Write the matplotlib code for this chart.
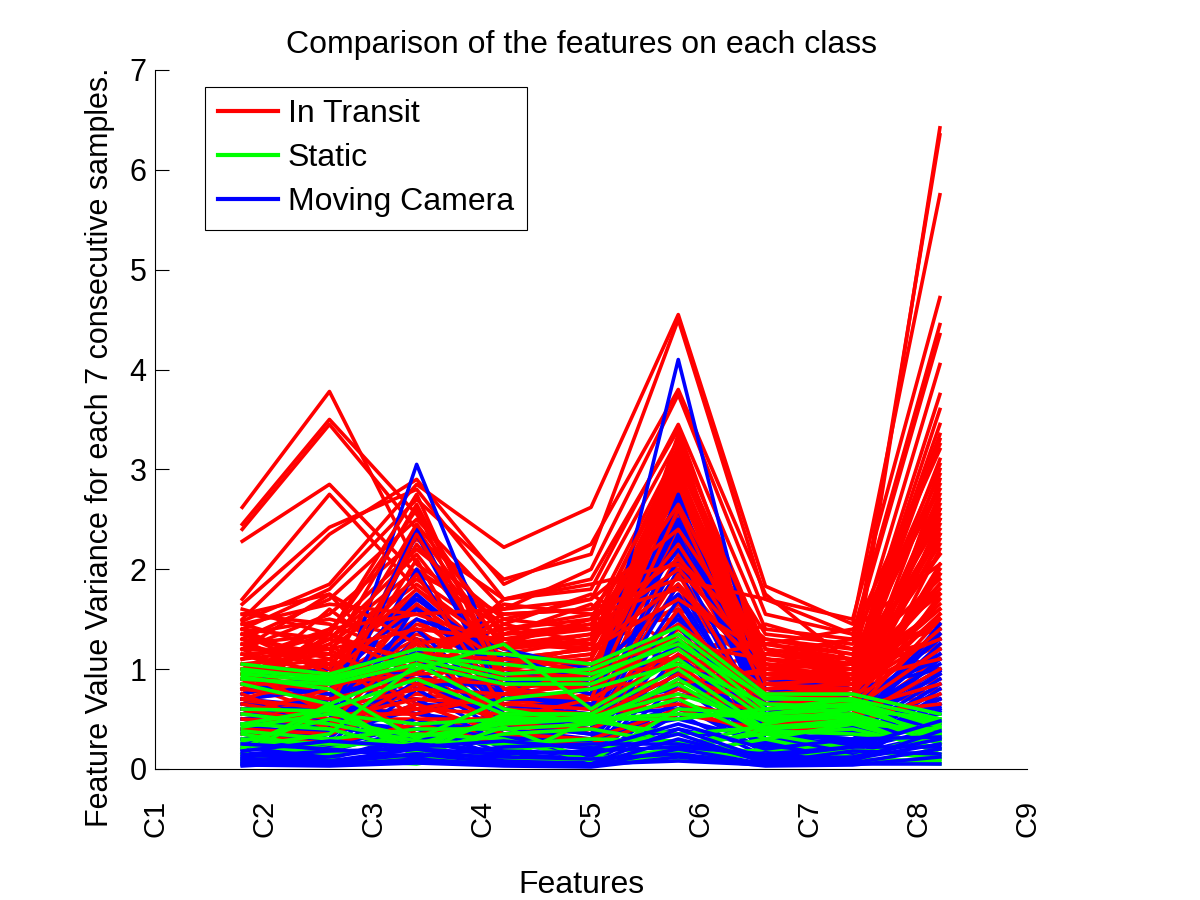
import matplotlib
matplotlib.use("Agg")
import matplotlib.pyplot as plt
from matplotlib.lines import Line2D

plt.rcParams['font.family'] = ['Liberation Sans', 'DejaVu Sans']

# feature names shown on the x axis, and where the 9 feature columns sit
tick_labels = ['C1', 'C2', 'C3', 'C4', 'C5', 'C6', 'C7', 'C8', 'C9']
feature_x = [1.8, 2.6, 3.4, 4.2, 5.0, 5.8, 6.6, 7.4, 8.2]

# variance values per sample (one row = one line)
in_transit = [
    [2.62, 3.78, 2.05, 1.45, 1.25, 2.30, 1.05, 0.80, 1.85],
    [2.45, 3.50, 2.55, 1.30, 1.45, 2.65, 1.10, 0.95, 2.35],
    [2.40, 3.45, 2.40, 1.20, 1.30, 3.05, 1.20, 0.85, 1.60],
    [2.28, 2.85, 1.95, 1.55, 1.60, 2.55, 0.90, 0.70, 1.30],
    [1.70, 2.75, 1.80, 1.05, 1.15, 2.20, 0.80, 0.60, 2.05],
    [1.65, 2.42, 2.80, 1.70, 1.90, 3.40, 1.00, 0.90, 6.42],
    [1.50, 2.35, 2.90, 1.85, 2.25, 3.80, 1.75, 1.05, 6.35],
    [1.48, 1.85, 2.85, 2.22, 2.62, 4.55, 1.83, 1.45, 5.75],
    [1.40, 1.80, 2.70, 1.90, 2.15, 4.50, 1.70, 1.50, 4.72],
    [1.30, 1.70, 2.50, 1.60, 2.00, 3.75, 1.55, 1.35, 4.45],
    [1.20, 1.55, 2.30, 1.70, 1.80, 3.45, 1.40, 1.30, 4.35],
    [1.10, 1.40, 2.20, 1.50, 1.70, 3.30, 1.20, 1.10, 4.05],
    [1.00, 1.30, 2.00, 1.40, 1.50, 3.20, 1.10, 1.00, 3.75],
    [0.95, 1.25, 1.90, 1.30, 1.40, 3.10, 1.00, 0.95, 3.60],
    [1.45, 1.20, 1.85, 1.20, 1.30, 3.00, 0.95, 0.90, 3.30],
    [1.35, 1.10, 1.70, 1.10, 1.20, 2.90, 0.90, 0.85, 3.10],
    [1.25, 1.00, 1.60, 1.00, 1.10, 2.80, 0.85, 0.80, 2.75],
    [1.15, 0.95, 1.50, 0.90, 1.00, 2.70, 0.80, 0.75, 2.60],
    [1.05, 0.90, 1.40, 0.85, 0.95, 2.60, 0.75, 0.70, 2.45],
    [0.90, 0.85, 1.30, 0.80, 0.90, 2.50, 0.70, 0.65, 2.30],
    [0.85, 1.60, 0.95, 1.45, 1.75, 1.20, 1.30, 1.15, 1.40],
    [1.55, 1.45, 1.10, 1.65, 1.55, 1.05, 1.45, 1.20, 1.20],
    [1.20, 1.75, 0.80, 1.35, 1.65, 0.95, 1.15, 1.30, 1.00],
    [0.75, 1.35, 2.60, 0.70, 0.60, 2.40, 0.55, 0.50, 2.20],
    [0.65, 0.55, 2.45, 0.60, 0.75, 3.35, 0.50, 0.45, 2.90],
    [0.60, 0.70, 2.10, 0.55, 0.70, 2.95, 0.65, 0.55, 2.50],
    [0.55, 0.60, 1.65, 0.50, 0.55, 2.15, 0.70, 0.60, 1.95],
    [0.50, 0.38, 1.00, 0.45, 0.50, 1.85, 0.60, 0.55, 1.75],
    [1.00, 1.10, 0.75, 1.25, 1.35, 1.60, 1.25, 1.10, 1.45],
    [1.10, 1.20, 0.65, 1.35, 1.45, 1.50, 1.15, 1.05, 1.30],
    [0.80, 0.95, 1.20, 0.95, 1.05, 2.05, 0.95, 0.85, 1.65],
    [0.70, 0.80, 1.15, 0.75, 0.85, 1.95, 0.85, 0.75, 1.55],
    [0.95, 0.75, 1.45, 1.15, 0.95, 1.75, 1.05, 0.90, 2.15],
    [1.25, 1.05, 1.75, 0.65, 0.80, 2.35, 0.75, 0.65, 2.70],
    [1.40, 1.30, 2.15, 1.05, 1.10, 2.85, 1.00, 0.95, 3.45],
    [0.60, 0.65, 0.55, 0.35, 0.45, 1.25, 0.45, 0.50, 1.10],
    [0.45, 0.50, 0.50, 0.30, 0.40, 1.05, 0.40, 0.45, 0.95],
    [0.70, 0.45, 0.40, 0.55, 0.35, 0.90, 0.55, 0.60, 0.80],
    [0.85, 0.55, 0.60, 0.70, 0.65, 0.75, 0.60, 0.70, 0.70],
    [1.15, 0.85, 0.70, 0.60, 0.75, 1.40, 0.80, 0.80, 1.25],
    [1.30, 1.15, 0.90, 0.80, 1.00, 1.65, 0.95, 0.85, 1.50],
    [0.90, 1.00, 1.60, 1.00, 1.25, 2.45, 1.10, 1.00, 2.55],
    [0.75, 0.90, 1.35, 1.10, 1.20, 1.30, 0.70, 0.95, 1.85],
    [0.55, 0.75, 1.05, 0.85, 0.95, 1.10, 0.65, 0.80, 1.35],
    [0.65, 1.05, 0.85, 0.90, 1.10, 2.55, 0.90, 0.75, 2.00],
    [1.05, 0.65, 1.25, 0.40, 0.65, 1.55, 0.50, 0.40, 1.15],
    [0.40, 0.55, 0.75, 0.65, 0.60, 1.00, 0.35, 0.65, 0.90],
    [1.35, 1.50, 1.30, 1.15, 1.30, 2.75, 1.35, 1.25, 3.20],
    [0.80, 1.40, 1.55, 1.25, 1.50, 2.10, 1.25, 1.15, 2.80],
    [1.25, 1.35, 1.05, 1.50, 1.40, 2.00, 1.05, 1.00, 2.95],
    [1.15, 1.20, 1.40, 1.30, 1.20, 1.85, 0.95, 0.90, 2.65],
    [1.00, 0.95, 1.65, 1.05, 1.15, 2.25, 0.90, 0.95, 2.40],
    [0.95, 1.05, 1.80, 1.20, 1.35, 2.65, 1.00, 1.05, 3.05],
    [0.85, 0.85, 0.95, 1.00, 0.90, 1.45, 0.80, 0.85, 2.25],
    [0.80, 0.70, 0.90, 0.85, 0.80, 1.35, 0.75, 0.80, 1.95],
    [0.70, 0.60, 0.80, 0.75, 0.70, 1.20, 0.70, 0.75, 1.70],
    [0.65, 0.50, 0.70, 0.65, 0.60, 1.15, 0.65, 0.70, 1.55],
    [0.60, 0.45, 0.60, 0.55, 0.50, 0.95, 0.60, 0.65, 1.40],
    [0.75, 0.40, 0.85, 0.45, 0.40, 0.80, 0.55, 0.60, 1.20],
    [1.45, 1.65, 1.55, 1.60, 1.70, 2.40, 1.10, 1.00, 3.35],
    [1.55, 1.75, 1.25, 1.40, 1.55, 1.80, 1.00, 0.95, 2.60],
    [1.60, 1.35, 0.95, 1.70, 1.85, 2.05, 1.30, 1.20, 2.15],
    [1.35, 0.95, 1.00, 1.25, 1.20, 1.70, 1.15, 1.10, 1.90],
    [1.20, 0.80, 1.15, 1.10, 1.05, 1.25, 1.10, 1.05, 1.75],
    [1.05, 1.15, 0.85, 0.95, 1.00, 1.00, 0.95, 1.00, 1.60],
    [0.90, 1.25, 0.60, 0.75, 0.85, 0.85, 1.00, 0.95, 1.30],
    [0.80, 1.10, 0.50, 0.50, 0.70, 0.70, 0.85, 0.90, 1.10],
    [1.40, 1.00, 2.45, 1.35, 1.40, 3.15, 1.20, 1.05, 2.85],
    [1.30, 0.85, 2.25, 1.25, 1.25, 2.95, 1.05, 1.00, 2.50],
    [1.20, 1.15, 2.65, 0.95, 0.85, 3.25, 0.85, 0.80, 2.35],
    [1.10, 1.35, 2.75, 0.80, 0.70, 2.60, 0.75, 0.70, 3.00],
    [0.95, 0.60, 2.35, 0.90, 0.95, 2.85, 0.95, 0.85, 1.80],
    [0.70, 0.95, 1.95, 0.60, 0.55, 1.95, 0.50, 0.55, 1.50],
    [0.50, 0.45, 1.30, 0.40, 0.45, 1.60, 0.45, 0.50, 1.00],
    [0.40, 0.35, 0.65, 0.35, 0.30, 0.60, 0.35, 0.45, 0.75],
    [0.35, 0.25, 0.45, 0.25, 0.25, 0.55, 0.40, 0.55, 0.65],
    [0.55, 0.80, 0.35, 0.45, 0.55, 0.65, 0.50, 0.60, 0.85],
    [1.00, 0.55, 0.55, 0.75, 1.00, 1.10, 1.25, 1.40, 2.05],
    [0.85, 1.30, 1.10, 1.55, 1.60, 1.90, 1.70, 1.35, 3.25],
]

moving_camera = [
    [0.30, 0.45, 3.05, 0.90, 0.50, 4.10, 0.60, 0.40, 1.45],
    [0.50, 0.60, 2.40, 0.80, 0.60, 2.75, 0.50, 0.50, 1.40],
    [0.40, 0.50, 2.35, 0.70, 0.70, 2.60, 0.40, 0.60, 1.30],
    [0.70, 0.80, 1.75, 1.00, 0.80, 2.50, 0.70, 0.50, 1.20],
    [0.80, 0.90, 1.70, 1.10, 0.90, 2.30, 0.80, 0.70, 1.10],
    [0.60, 0.70, 1.50, 1.20, 1.00, 2.20, 0.90, 0.80, 1.00],
    [0.75, 0.95, 1.60, 0.95, 0.75, 2.45, 0.55, 0.45, 0.95],
    [0.55, 0.65, 1.40, 0.60, 0.55, 2.10, 0.45, 0.35, 0.90],
    [0.45, 0.55, 1.30, 0.55, 0.45, 2.00, 0.35, 0.30, 0.85],
    [0.35, 0.40, 1.20, 0.50, 0.40, 1.85, 0.30, 0.25, 0.80],
    [0.25, 0.30, 1.10, 0.45, 0.35, 1.70, 0.25, 0.20, 0.75],
    [0.20, 0.25, 1.00, 0.40, 0.30, 1.60, 0.20, 0.15, 0.70],
    [0.15, 0.20, 0.90, 0.35, 0.25, 1.45, 0.15, 0.10, 0.65],
    [0.10, 0.15, 0.80, 0.30, 0.20, 1.30, 0.10, 0.08, 0.60],
    [0.65, 0.55, 0.70, 0.25, 0.15, 1.15, 0.30, 0.35, 0.55],
    [0.50, 0.35, 0.60, 0.20, 0.12, 1.00, 0.25, 0.30, 0.50],
    [0.40, 0.25, 0.50, 0.15, 0.10, 0.85, 0.20, 0.25, 0.45],
    [0.30, 0.18, 0.40, 0.12, 0.08, 0.70, 0.15, 0.20, 0.40],
    [0.22, 0.12, 0.30, 0.10, 0.06, 0.55, 0.12, 0.15, 0.35],
    [0.15, 0.08, 0.20, 0.08, 0.05, 0.40, 0.10, 0.12, 0.30],
    [0.10, 0.06, 0.15, 0.06, 0.04, 0.30, 0.08, 0.10, 0.25],
    [0.06, 0.04, 0.10, 0.04, 0.03, 0.20, 0.05, 0.06, 0.20],
    [0.04, 0.03, 0.06, 0.03, 0.02, 0.12, 0.03, 0.04, 0.12],
    [0.85, 0.75, 0.95, 0.65, 0.55, 0.60, 0.45, 0.55, 1.05],
    [0.90, 1.00, 1.15, 0.75, 0.65, 0.80, 0.50, 0.65, 1.15],
    [0.35, 0.70, 1.05, 1.15, 0.85, 1.50, 0.40, 0.35, 0.70],
    [0.28, 0.50, 0.85, 0.85, 0.95, 1.75, 0.35, 0.40, 0.95],
    [0.18, 0.35, 0.65, 0.60, 0.70, 1.25, 0.28, 0.45, 1.25],
    [0.12, 0.22, 0.45, 0.40, 0.50, 0.95, 0.22, 0.38, 1.10],
    [0.08, 0.10, 0.35, 0.25, 0.30, 0.65, 0.18, 0.28, 0.85],
    [0.45, 0.30, 1.65, 0.75, 0.60, 2.70, 0.60, 0.42, 1.35],
    [0.60, 0.45, 2.00, 0.50, 0.40, 2.35, 0.52, 0.48, 1.00],
    [0.05, 0.05, 0.08, 0.05, 0.05, 0.08, 0.04, 0.05, 0.05],
    [0.08, 0.12, 0.25, 0.18, 0.15, 0.35, 0.06, 0.18, 0.15],
    [0.25, 0.20, 0.12, 0.22, 0.25, 0.25, 0.12, 0.22, 0.22],
    [0.18, 0.28, 0.22, 0.28, 0.20, 0.45, 0.20, 0.30, 0.32],
    [0.70, 0.62, 0.55, 0.45, 0.35, 0.50, 0.28, 0.25, 0.65],
    [0.55, 0.48, 0.40, 0.32, 0.22, 0.40, 0.22, 0.18, 0.58],
    [0.12, 0.18, 0.20, 0.15, 0.18, 0.22, 0.15, 0.22, 0.48],
    [0.03, 0.08, 0.15, 0.12, 0.10, 0.15, 0.05, 0.08, 0.38],
    [0.38, 0.42, 0.30, 0.35, 0.28, 0.60, 0.30, 0.35, 0.62],
    [0.60, 0.38, 0.85, 0.55, 0.48, 1.55, 0.42, 0.55, 0.98],
]

static = [
    [1.05, 0.95, 1.20, 1.15, 1.05, 1.42, 0.75, 0.75, 0.55],
    [1.00, 0.90, 1.15, 0.95, 1.00, 1.35, 0.70, 0.70, 0.50],
    [0.95, 0.88, 1.10, 0.90, 0.90, 1.30, 0.60, 0.65, 0.45],
    [0.90, 0.85, 1.05, 0.85, 0.85, 1.20, 0.55, 0.60, 0.35],
    [0.85, 0.65, 1.00, 1.25, 0.60, 1.10, 0.50, 0.55, 0.30],
    [0.45, 0.60, 0.90, 0.55, 0.55, 1.00, 0.40, 0.45, 0.20],
    [0.42, 0.55, 0.45, 0.50, 0.50, 0.85, 0.35, 0.20, 0.10],
    [0.38, 0.30, 0.40, 0.40, 0.45, 0.70, 0.30, 0.12, 0.35],
    [0.35, 0.20, 0.35, 0.30, 0.08, 0.60, 0.55, 0.65, 0.30],
    [0.25, 0.15, 0.20, 0.08, 0.50, 0.50, 0.60, 0.70, 0.25],
    [0.20, 0.65, 0.15, 0.55, 0.55, 0.22, 0.45, 0.60, 0.50],
    [0.15, 0.62, 0.12, 0.42, 0.08, 0.18, 0.40, 0.50, 0.15],
    [0.05, 0.05, 0.10, 0.05, 0.05, 0.15, 0.30, 0.45, 0.40],
    [0.45, 0.40, 0.18, 0.35, 0.40, 0.25, 0.35, 0.40, 0.20],
    [0.30, 0.25, 0.25, 0.48, 0.52, 0.75, 0.48, 0.52, 0.32],
    [0.10, 0.08, 0.12, 0.10, 0.10, 0.20, 0.10, 0.08, 0.05],
    [0.22, 0.35, 1.05, 0.60, 0.45, 0.90, 0.38, 0.35, 0.28],
    [0.92, 0.80, 0.30, 0.70, 0.80, 1.05, 0.65, 0.62, 0.48],
    [0.55, 0.45, 0.28, 0.25, 0.30, 0.28, 0.15, 0.18, 0.12],
    [0.08, 0.10, 0.05, 0.20, 0.25, 0.10, 0.20, 0.10, 0.08],
    [0.98, 0.92, 1.12, 1.05, 0.95, 1.25, 0.72, 0.68, 0.42],
    [0.60, 0.58, 0.22, 0.52, 0.48, 0.35, 0.42, 0.48, 0.35],
    [0.28, 0.50, 0.32, 0.45, 0.50, 0.55, 0.52, 0.55, 0.25],
]

fig = plt.figure(figsize=(12, 9), dpi=100)
ax = fig.add_axes([0.1292, 0.1456, 0.7267, 0.7767])

# samples come in mixed order: part of the red set sits under the blue,
# and the quietest moving-camera samples end up on top of everything
lw = 2.6
split = 48
blue = (0, 0, 1)
low_blue = [r for r in moving_camera if max(r) < 0.5]
high_blue = [r for r in moving_camera if max(r) >= 0.5]
for row in in_transit[:split]:
    ax.plot(feature_x, row, color=(1, 0, 0), lw=lw)
for row in high_blue:
    ax.plot(feature_x, row, color=blue, lw=lw)
for row in in_transit[split:]:
    ax.plot(feature_x, row, color=(1, 0, 0), lw=lw)
for row in static:
    ax.plot(feature_x, row, color=(0, 1, 0), lw=lw)
for row in low_blue:
    ax.plot(feature_x, row, color=blue, lw=lw)

ax.set_xlim(1, 9)
ax.set_ylim(0, 7)
ax.set_xticks(range(1, 10))
ax.set_xticklabels(tick_labels, rotation=90, fontsize=21)
ax.set_yticks(range(0, 8))
ax.tick_params(axis='y', direction='in', length=10, labelsize=22, pad=6)
ax.tick_params(axis='x', length=0, pad=22)
for s in ['top', 'right']:
    ax.spines[s].set_visible(False)

ax.set_title('Comparison of the features on each class', fontsize=23, pad=12, x=0.489)
ax.set_xlabel('Features', fontsize=23, labelpad=24)
ax.xaxis.set_label_coords(0.489, -0.145)
ax.set_ylabel('Feature Value Variance for each 7 consecutive samples.', fontsize=22)
ax.yaxis.set_label_coords(-0.046, 0.46)

handles = [Line2D([], [], color=(1, 0, 0), lw=3),
           Line2D([], [], color=(0, 1, 0), lw=3),
           Line2D([], [], color=(0, 0, 1), lw=3)]
leg = ax.legend(handles, ['In Transit', 'Static', 'Moving Camera'],
                loc='upper left', bbox_to_anchor=(0.057, 0.976),
                fontsize=23, frameon=True, fancybox=False, framealpha=1,
                edgecolor='black', handlelength=1.9, handletextpad=0.3,
                borderpad=0.4, labelspacing=0.43, borderaxespad=0)
leg.get_frame().set_linewidth(0.8)

fig.savefig('out.png', dpi=100)
